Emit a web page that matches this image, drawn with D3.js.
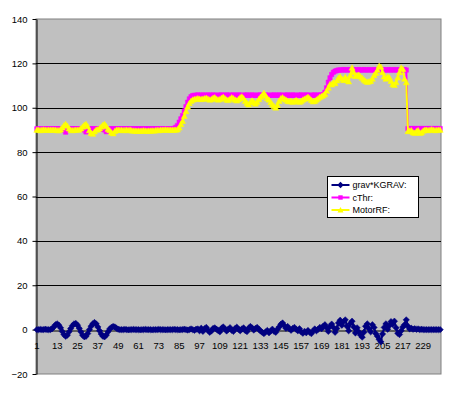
<!DOCTYPE html>
<html>
<head>
<meta charset="utf-8">
<script src="https://cdn.jsdelivr.net/npm/d3@7"></script>
<style>
  body { margin: 0; background: #fff; }
  text { font-family: "Liberation Sans", Arial, sans-serif; }
</style>
</head>
<body>
<svg id="chart" width="461" height="393"></svg>
<script>
// category numbers along the x axis
const categories = d3.range(1, 240);
const xTickLabels = [1, 13, 25, 37, 49, 61, 73, 85, 97, 109, 121, 133, 145, 157, 169, 181, 193, 205, 217, 229];
const yTickLabels = [-20, 0, 20, 40, 60, 80, 100, 120, 140];
const seriesNames = ["grav*KGRAV:", "cThr:", "MotorRF:"];

const gravValues = [
  0, 0, 0.1, 0, 0, 0.2, 0, 0, 0, 0.4,
  1.2, 2.2, 2.6, 2.0, 0.8, -0.8, -2.2, -3.0, -2.5, -1.0,
  0.5, 1.8, 2.6, 2.8, 2.0, 0.6, -1.0, -2.5, -3.2, -3.0,
  -1.8, 0, 1.5, 2.6, 3.2, 2.6, 1.2, -0.5, -2.0, -3.0,
  -3.2, -2.4, -1.0, 0.3, 1.0, 1.4, 1.2, 0.6, 0.2, 0,
  0, 0, 0.1, 0, -0.1, 0, 0, 0.1, 0, 0,
  0, -0.1, 0, 0, 0.1, 0, 0, 0, -0.1, 0,
  0, 0, 0.1, 0, 0, 0, -0.1, 0, 0, 0,
  0, 0.1, 0, 0, -0.1, 0, 0, 0.2, 0, -0.2,
  0, 0.3, 0, -0.3, 0.2, 0.3, -0.5, 0.6, -0.8, 0.4,
  1.0, -0.3, -1.2, -0.6, 0.5, 0.8, 0.2, -0.4, -1.0, 0.6,
  1.2, 0.3, -0.6, 0.2, 0.9, -0.3, -0.8, 0.5, 1.1, 0.2,
  -0.5, 0.3, 0.8, -0.4, -0.9, 0.6, 1.4, 0.8, -0.2, 0.5,
  1.0, 0.2, -0.6, -1.2, -1.8, -1.0, -0.4, -1.4, -0.6, 0.2,
  -0.8, -1.2, 0.2, 1.2, 2.4, 3.0, 1.8, 0.6, 1.4, 0.4,
  -0.3, 0.5, 1.0, 0.2, -0.5, 0.4, -1.0, -1.6, -0.8, -1.4,
  -0.4, -1.2, -1.8, -0.6, 0.3, -0.5, 0.2, 1.0, 0.4, 1.5,
  2.2, 0.8, -0.8, 1.4, 2.5, 1.0, -1.2, 0.5, 3.0, 4.2,
  2.0, 3.6, 4.4, 1.5, -0.5, 2.8, 3.8, 1.2, -1.5, 0.8,
  -1.0, -2.4, -3.4, -1.2, 1.5, 2.6, 0.4, -1.0, 2.2, 1.0,
  -1.8, -3.0, -4.4, -5.5, -2.0, 1.0, 2.6, 0.2, 1.8, 3.6,
  2.4, 3.8, 0.8, -1.6, -2.2, -0.5, 1.2, 2.2, 4.4, 1.5,
  0.3, 0.6, 0.2, 0.4, 0.1, 0.3, 0, 0.2, 0, 0,
  0, 0, 0, 0, 0, 0, 0, 0, 0
];

const cThrValues = [
  90.5, 90.5, 90.3, 90.5, 90.5, 90.5, 90.4, 90.5, 90.5, 90.5,
  90.5, 90.5, 90.5, 90.5, 90.5, 90.3, 90.0, 89.0, 90.2, 90.5,
  90.5, 90.5, 90.5, 90.5, 90.5, 90.5, 90.5, 90.3, 90.0, 89.1,
  90.2, 90.5, 90.5, 90.5, 90.5, 90.5, 90.5, 90.5, 90.5, 90.3,
  90.0, 89.2, 90.2, 90.5, 90.5, 90.5, 90.5, 90.5, 90.5, 90.5,
  90.5, 90.5, 90.5, 90.5, 90.5, 90.5, 90.5, 90.5, 90.5, 90.5,
  90.5, 90.5, 90.5, 90.5, 90.5, 90.5, 90.5, 90.5, 90.5, 90.5,
  90.5, 90.5, 90.5, 90.5, 90.5, 90.5, 90.5, 90.5, 90.5, 90.5,
  90.5, 90.7, 91.2, 92, 93.5, 95, 96.5, 98.5, 100.5, 102.5,
  104, 105, 105.5, 105.6, 105.6, 105.8, 105.6, 105.6, 105.8, 105.6,
  105.6, 105.8, 105.6, 105.6, 105.8, 105.6, 105.6, 105.7, 105.6, 105.8,
  105.6, 105.6, 105.8, 105.6, 105.7, 105.6, 105.8, 105.6, 105.6, 105.8,
  105.6, 105.6, 105.7, 105.6, 105.8, 105.6, 105.6, 105.8, 105.6, 105.6,
  105.7, 105.6, 105.8, 105.6, 105.6, 105.8, 105.6, 105.6, 105.7, 105.6,
  105.8, 105.6, 105.6, 105.8, 105.6, 105.6, 105.7, 105.6, 105.8, 105.6,
  105.6, 105.8, 105.6, 105.6, 105.7, 105.6, 105.8, 105.6, 105.6, 105.8,
  105.6, 105.6, 105.7, 105.6, 105.8, 105.6, 105.6, 105.8, 105.7, 106,
  107, 109, 111.5, 113.5, 115, 116, 116.5, 116.8, 117, 117,
  117, 117.2, 117, 117, 117.2, 117, 117, 117.2, 117, 117,
  117.2, 117, 117, 117.2, 117, 117, 117.2, 117, 117, 117.2,
  117, 117, 117.2, 117, 117, 117.2, 117, 117, 117.2, 117,
  117, 117.2, 117, 117, 117.2, 117, 117, 117.2, 117, 90.6,
  90.6, 90.6, 90.6, 90.6, 90.6, 90.6, 90.6, 90.6, 90.6, 90.6,
  90.6, 90.6, 90.6, 90.6, 90.6, 90.6, 90.6, 90.6, 90.6
];

const motorValues = [
  90, 90, 89.8, 90, 90.1, 90, 89.9, 90, 90, 90,
  90, 90, 89.8, 89.8, 90.2, 91, 92, 92.6, 91.8, 90.6,
  90, 89.8, 89.9, 90, 90, 90.1, 90.6, 91.4, 92.2, 92.6,
  91.6, 89.8, 88.6, 88.2, 89.2, 90, 90.2, 90.6, 91.4, 92.2,
  92.6, 91.6, 90.4, 89.8, 88.8, 88.4, 89.4, 90, 90, 89.9,
  90, 89.8, 89.9, 90, 89.8, 90, 89.7, 89.6, 89.6, 89.5,
  89.6, 89.5, 89.6, 89.7, 89.6, 89.5, 89.6, 89.6, 89.7, 89.6,
  89.8, 89.9, 89.8, 90, 90, 90, 90.1, 90, 90, 90,
  90, 90, 90, 90.2, 91, 92.5, 94, 96.2, 98.4, 100.4,
  102, 103, 103.6, 103.8, 104, 104.2, 104, 103.8, 104, 104.2,
  104.4, 104, 103.6, 103.8, 104.4, 104.6, 104, 103.6, 103.8, 104.4,
  104.8, 104.2, 103.6, 103.4, 104, 104.6, 104.2, 103.6, 103.2, 103.8,
  104.6, 105, 104.2, 103, 102, 101.4, 102.4, 103.2, 102.6, 101.8,
  102.6, 103.8, 104.8, 105.6, 106.6, 105.4, 104.2, 103.6, 102.4, 101.4,
  100.6, 100, 101.2, 103, 104.2, 104.6, 104, 103.6, 103, 102.8,
  103, 102.6, 103, 103.4, 103, 102.6, 103, 103.6, 104, 104.4,
  104.8, 104.2, 103.4, 102.8, 103, 103.6, 104.2, 104.8, 105.2, 105.6,
  106.2, 107.6, 109, 110.6, 110.4, 111.4, 111, 112.2, 113.4, 114,
  113, 112.4, 113.8, 112.6, 111.8, 114.6, 118, 116, 114.2, 114.6,
  114.8, 114, 113.4, 112.6, 112, 111.6, 111.8, 112, 113, 114.6,
  115.6, 117, 118.8, 118.4, 116, 114, 113, 114, 113.6, 112,
  110.6, 110.2, 111.4, 113.6, 116, 118, 117.4, 113, 111.4, 89.4,
  89.6, 89.8, 88.8, 88.6, 89.4, 89.8, 88.6, 88.8, 89.6, 90,
  90, 89.8, 90, 90.2, 90, 89.8, 89.9, 90, 90
];

const seriesColors = ["#000080", "#ff00ff", "#ffff00"];

// excel-ish marker shapes, size = half width in px
const diamondMark = { draw(ctx, r){ ctx.moveTo(0, -r); ctx.lineTo(r, 0); ctx.lineTo(0, r); ctx.lineTo(-r, 0); ctx.closePath(); } };
const squareMark = { draw(ctx, r){ ctx.rect(-r, -r, 2*r, 2*r); } };
const triangleMark = { draw(ctx, r){ ctx.moveTo(0, -r); ctx.lineTo(r, r*0.8); ctx.lineTo(-r, r*0.8); ctx.closePath(); } };
const markers = [[diamondMark, 3.2], [squareMark, 2.2], [triangleMark, 3]];

const svg = d3.select("#chart");
const plot = {left: 36, right: 441, top: 19, bottom: 374};

const x = d3.scaleBand()
  .domain(categories)
  .range([plot.left, plot.right]);
const y = d3.scaleLinear()
  .domain([-20, 140])
  .range([plot.bottom, plot.top]);
const cx = d => x(d.cat) + x.bandwidth() / 2;

svg.append("rect")
  .attr("x", 0).attr("y", 0).attr("width", 461).attr("height", 393)
  .attr("fill", "#fff");

svg.append("rect")
  .attr("x", plot.left).attr("y", plot.top)
  .attr("width", plot.right - plot.left).attr("height", plot.bottom - plot.top)
  .attr("fill", "#c0c0c0")
  .attr("stroke", "#808080")
  .attr("stroke-width", 1);

// gridlines
svg.append("g").selectAll("line")
  .data(yTickLabels.filter(v => v > 0 && v < 140))
  .enter().append("line")
  .attr("x1", plot.left).attr("x2", plot.right)
  .attr("y1", d => Math.round(y(d)) + 0.5).attr("y2", d => Math.round(y(d)) + 0.5)
  .attr("stroke", "#000").attr("stroke-width", 1);

// value axis
const yAxis = svg.append("g")
  .attr("transform", "translate(" + (plot.left + 0.5) + ",0)")
  .call(d3.axisLeft(y).tickValues(yTickLabels).tickSizeOuter(0).tickSizeInner(4).tickPadding(5));
yAxis.select(".domain").attr("stroke", "#000");
yAxis.selectAll("text").attr("font-size", "9.5px").attr("font-family", "Liberation Sans, Arial, sans-serif").attr("fill", "#000");

// category axis sits on zero
const xAxis = svg.append("g")
  .attr("transform", "translate(0," + (Math.round(y(0)) + 0.5) + ")")
  .call(d3.axisBottom(x).tickValues(xTickLabels).tickSizeOuter(0).tickSizeInner(0).tickPadding(12));
xAxis.select(".domain").attr("stroke", "#000");
xAxis.selectAll("text").attr("font-size", "9.5px").attr("font-family", "Liberation Sans, Arial, sans-serif").attr("fill", "#000");

const allSeries = [gravValues, cThrValues, motorValues].map((vals, k) => ({
  name: seriesNames[k],
  color: seriesColors[k],
  values: vals.map((v, i) => ({cat: categories[i], v: v}))
}));

const line = d3.line()
  .x(cx)
  .y(d => y(d.v));

allSeries.forEach((s, k) => {
  const g = svg.append("g").attr("class", "series");
  g.append("path")
    .attr("d", line(s.values))
    .attr("fill", "none")
    .attr("stroke", s.color)
    .attr("stroke-width", 2)
    .attr("stroke-linejoin", "round");
  const sym = d3.symbol().type(markers[k][0]).size(markers[k][1]);
  g.selectAll("path.mark")
    .data(s.values)
    .enter().append("path")
    .attr("class", "mark")
    .attr("transform", d => "translate(" + cx(d) + "," + y(d.v) + ")")
    .attr("d", sym)
    .attr("fill", s.color)
    .attr("stroke", s.color)
    .attr("stroke-width", 0.5);
});

// legend
const legend = svg.append("g").attr("transform", "translate(327.5,176.5)");
legend.append("rect")
  .attr("width", 91).attr("height", 41)
  .attr("fill", "#fff").attr("stroke", "#000").attr("stroke-width", 1);

const rows = legend.selectAll("g.row")
  .data(allSeries)
  .enter().append("g")
  .attr("class", "row")
  .attr("transform", (d, i) => "translate(0," + (8.5 + i * 12.5) + ")");
rows.append("line")
  .attr("x1", 4).attr("x2", 22)
  .attr("stroke", d => d.color).attr("stroke-width", 2);
rows.append("path")
  .attr("transform", "translate(13,0)")
  .attr("d", (d, i) => d3.symbol().type(markers[i][0]).size(markers[i][1])())
  .attr("fill", d => d.color);
rows.append("text")
  .attr("x", 25).attr("dy", "0.35em")
  .attr("font-size", "9px")
  .attr("fill", "#000")
  .text(d => d.name);
</script>
</body>
</html>
